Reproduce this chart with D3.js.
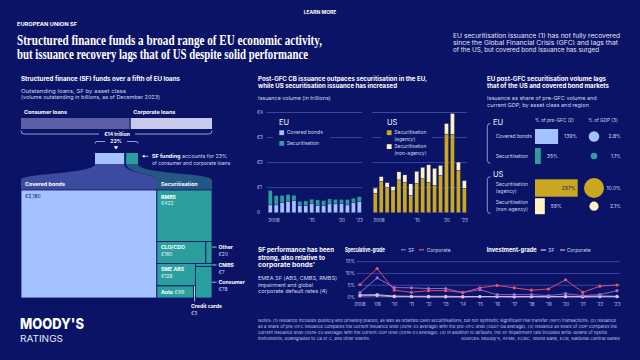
<!DOCTYPE html>
<html><head><meta charset="utf-8">
<script src="https://cdn.jsdelivr.net/npm/d3@7"></script>
<style>
html,body{margin:0;padding:0;background:#0b1366;}
svg{display:block;font-family:Inter,"Noto Sans",sans-serif;}
</style></head><body>
<svg id="c" width="640" height="360"></svg>
<script>
// ---------------- DATA ----------------
const loanCategories = ["Consumer loans", "Corporate loans"];
const loanValues = [8.0, 6.0]; // € trillion (total €14 trillion)
const sfGroups = ["Covered bonds", "Securitisation"];
const sfGroupValues = [2180, 884];
const treemapNames = ["Covered bonds", "RMBS", "CLO/CDO", "Other", "SME ABS", "Auto", "Credit cards", "CMBS", "Consumer"];
const treemapValues = [2180, 422, 160, 20, 128, 66, 3, 7, 78]; // € billions

const years = [2008, 2009, 2010, 2011, 2012, 2013, 2014, 2015, 2016, 2017, 2018, 2019, 2020, 2021, 2022, 2023];
const euCoveredBonds   = [0.31, 0.31, 0.41, 0.46, 0.50, 0.28, 0.28, 0.36, 0.30, 0.28, 0.35, 0.35, 0.36, 0.31, 0.41, 0.45];
const euSecuritisation = [0.58, 0.37, 0.28, 0.27, 0.20, 0.17, 0.19, 0.18, 0.21, 0.21, 0.20, 0.18, 0.17, 0.22, 0.17, 0.19];
const usAgency    = [0.77, 1.25, 1.01, 0.87, 1.31, 1.21, 0.69, 1.17, 1.36, 1.21, 1.09, 1.49, 3.14, 3.13, 1.69, 0.98];
const usNonAgency = [0.21, 0.19, 0.19, 0.17, 0.32, 0.30, 0.46, 0.48, 0.45, 0.70, 0.68, 0.40, 0.42, 0.83, 0.33, 0.30];
const issuanceTicks = [0, 1, 2, 3, 4];
const issuanceTickLabels = ["0", "€1", "€2", "€3", "€4"];
const barYearTicks = [2008, 2015, 2020, 2023];
const barYearLabels = ["2008", "'15", "'20", "'23"];

const shareRows = [["Covered bonds"], ["Securitisation"], ["Securitisation", "(agency)"], ["Securitisation", "(non-agency)"]];
const shareRegions = ["EU", "US"];
const preGfcShare = [139, 35, 257, 59];   // %
const gdpShare = [2.8, 1.1, 10.0, 2.1];   // %

const rateYears = [2008, 2009, 2010, 2011, 2012, 2013, 2014, 2015, 2016, 2017, 2018, 2019, 2020, 2021, 2022, 2023];
const rateYearLabels = ["2008", "'09", "'10", "'11", "'12", "'13", "'14", "'15", "'16", "'17", "'18", "'19", "'20", "'21", "'22", "'23"];
const sgSF   = [1.9, 8.1, 4.0, 3.9, 3.6, 3.6, 1.9, 3.1, 1.0, 1.0, 1.0, 0.6, 1.4, 0.6, 1.0, 2.7];
const sgCorp = [5.3, 12.1, 2.9, 2.0, 2.7, 2.7, 1.9, 3.9, 4.9, 3.9, 2.9, 3.4, 7.3, 2.0, 4.6, 5.1];
const igSF   = [0.9, 1.0, 0.4, 0.3, 0.3, 0.3, 0.2, 0.2, 0.2, 0.2, 0.2, 0.1, 0.3, 0.2, 0.4, 0.3];
const igCorp = [0.5, 0.6, 0.1, 0.1, 0.0, 0.0, 0.0, 0.1, 0.1, 0.0, 0.1, 0.1, 0.1, 0.0, 0.1, 0.1];
const rateTicks = [0, 5, 10, 15];
const rateTickLabels = ["0%", "5%", "10%", "15%"];

// ---------------- STYLE ----------------
const BG = "#0b1366", GRID = "#4652ad", SUB = "#d3d7f2", TICK = "#c3c7ee";
const CB_BLUE = "#a4c2ff", TEAL = "#2a9f9d", GOLD = "#c9a820", CREAM = "#fdf3c2";
const CONS = "#5d5ea8", CORP = "#c9c9ee";
const SG_SF = "#9c6ddb", SG_CORP = "#e4566f", IG_SF = "#cfc3f7", IG_CORP = "#f3aabd";

const svg = d3.select("#c");
svg.append("rect").attr("width", 640).attr("height", 360).attr("fill", BG);

function T(x, y, s, o = {}) {
  const t = svg.append("text").attr("x", x).attr("y", y).attr("dy", "0.35em").text(s)
    .attr("font-size", o.size || 5).attr("font-weight", o.w || 400)
    .attr("fill", o.fill || "#fff").attr("text-anchor", o.anchor || "start");
  if (o.family) t.attr("font-family", o.family);
  if (o.len) t.attr("textLength", o.len).attr("lengthAdjust", "spacingAndGlyphs");
  return t;
}

// ---------------- HEADER ----------------
T(320, 12, "LEARN MORE", {size: 5, w: 700, anchor: "middle"});
T(17, 24, "EUROPEAN UNION SF", {size: 5, w: 700, len: 60});
const tf = "'Liberation Serif','DejaVu Serif',serif";
svg.append("text").attr("x", 17).attr("y", 44.5).text("Structured finance funds a broad range of EU economic activity,")
  .attr("font-family", tf).attr("font-size", 14).attr("font-weight", 700).attr("fill", "#fff")
  .attr("textLength", 305).attr("lengthAdjust", "spacingAndGlyphs");
svg.append("text").attr("x", 17).attr("y", 59).text("but issuance recovery lags that of US despite solid performance")
  .attr("font-family", tf).attr("font-size", 14).attr("font-weight", 700).attr("fill", "#fff")
  .attr("textLength", 291).attr("lengthAdjust", "spacingAndGlyphs");
const HDR = "#e3e5f7";
T(453, 36, "EU securitisation issuance (1) has not fully recovered", {size: 5.6, fill: HDR, len: 167});
T(453, 43, "since the Global Financial Crisis (GFC) and lags that", {size: 5.6, fill: HDR, len: 165});
T(453, 50, "of the US, but covered bond issuance has surged", {size: 5.6, fill: HDR, len: 146});

// ---------------- LEFT PANEL ----------------
T(21, 79, "Structured finance (SF) funds over a fifth of EU loans", {size: 5.6, w: 700, len: 159});
T(21, 91, "Outstanding loans, SF by asset class", {size: 5.4, fill: SUB, len: 105});
T(21, 97.5, "(volume outstanding in billions, as of December 2023)", {size: 5.4, fill: SUB, len: 139});

const loanTotal = d3.sum(loanValues);
const xLoan = d3.scaleLinear().domain([0, loanTotal]).range([21, 212]);
let acc = 0;
loanValues.forEach((v, i) => {
  const x0 = xLoan(acc), x1 = xLoan(acc + v);
  svg.append("rect").attr("x", x0 + (i ? 0.6 : 0)).attr("y", 118).attr("width", x1 - x0 - 0.6).attr("height", 11)
    .attr("fill", i === 0 ? CONS : CORP);
  T(x0 + 3, 112.5, loanCategories[i], {size: 5.4, w: 700, fill: "#fff"});
  acc += v;
});
// brace
svg.append("path").attr("d", "M21,130.5 Q21,134 24,134 L99,134 M135,134 L209,134 Q212,134 212,130.5")
  .attr("fill", "none").attr("stroke", "#d7daf5").attr("stroke-width", 0.7);
T(117, 134.2, "€14 trillion", {size: 5, w: 700, anchor: "middle"});
svg.append("path").attr("d", "M95,143.5 Q95,141.5 97,141.5 L105,141.5 M127,141.5 L136,141.5 Q138,141.5 138,143.5")
  .attr("fill", "none").attr("stroke", "#d7daf5").attr("stroke-width", 0.7);
T(116, 141.5, "23%", {size: 5, w: 700, anchor: "middle"});
svg.append("path").attr("d", "M113.8,146.3 L118.2,146.3 L116,149.5 Z").attr("fill", "#fff");

// small SF boxes
const sfTotal = d3.sum(sfGroupValues);
const xSmall = d3.scaleLinear().domain([0, sfTotal]).range([0, 41]);
const cbW = xSmall(sfGroupValues[0]), secW = xSmall(sfGroupValues[1]);
const sx0 = 95, sx1 = sx0 + cbW + 2;
// funnel shapes
const ty = 164, by = 180, bandB = 190;
svg.append("path").attr("d",
  `M${sx0},${ty} C${sx0},${ty+10} 21,${by-7} 21,${by} L21,${bandB} L157,${bandB} L157,${by} C157,${by-7} ${sx0+cbW},${ty+10} ${sx0+cbW},${ty} Z`)
  .attr("fill", "#3c4a9f");
svg.append("path").attr("d",
  `M${sx1},${ty} C${sx1},${ty+10} 157,${by-7} 157,${by} L157,${bandB} L212,${bandB} L212,${by} C212,${by-7} ${sx1+secW},${ty+10} ${sx1+secW},${ty} Z`)
  .attr("fill", "#245783");
svg.append("rect").attr("x", sx0).attr("y", 153).attr("width", cbW).attr("height", 11).attr("fill", CB_BLUE);
svg.append("rect").attr("x", sx1).attr("y", 153).attr("width", secW).attr("height", 11).attr("fill", TEAL);
svg.append("path").attr("d", "M143,156.3 L148.5,156.3").attr("stroke", "#fff").attr("stroke-width", 0.7);
svg.append("path").attr("d", "M142,156.3 L144.5,154.8 L144.5,157.8 Z").attr("fill", "#fff");
const sfNote = svg.append("text").attr("x", 152).attr("y", 156).attr("dy", "0.35em").attr("font-size", 5.4).attr("fill", SUB);
sfNote.append("tspan").text("SF funding").attr("font-weight", 700).attr("fill", "#fff");
sfNote.append("tspan").text(" accounts for 23%");
T(152, 162.7, "of consumer and corporate loans", {size: 5.4, fill: SUB, len: 78});
T(25, 184.5, sfGroups[0], {size: 5.4, w: 700});
T(161, 184.5, sfGroups[1], {size: 5.4, w: 700});

// treemap
const v = treemapValues;
const tmData = {name: "root", children: [
  {name: treemapNames[0], value: v[0]},
  {name: "Securitisation", children: [
    {name: treemapNames[1], value: v[1]},
    {name: "g1", children: [{name: treemapNames[2], value: v[2]}, {name: treemapNames[3], value: v[3]}]},
    {name: "g2", children: [
      {name: "g2a", children: [{name: treemapNames[4], value: v[4]},
        {name: "g2a2", children: [{name: treemapNames[5], value: v[5]}, {name: treemapNames[6], value: v[6]}]}]},
      {name: "g2b", children: [{name: treemapNames[7], value: v[7]}, {name: treemapNames[8], value: v[8]}]}
    ]}
  ]}
]};
const root = d3.hierarchy(tmData).sum(d => d.value || 0);
d3.treemap().tile(d3.treemapSliceDice).size([191, 108]).round(false)(root);
const gT = svg.append("g").attr("transform", "translate(21,190)");
const leaves = root.leaves();
gT.selectAll("rect").data(leaves).join("rect")
  .attr("x", d => d.x0).attr("y", d => d.y0).attr("width", d => d.x1 - d.x0).attr("height", d => d.y1 - d.y0)
  .attr("fill", d => d.data.name === "Covered bonds" ? CB_BLUE : TEAL)
  .attr("stroke", BG).attr("stroke-width", 0.8);
const L = {}; leaves.forEach(d => L[d.data.name] = {x0: d.x0 + 21, x1: d.x1 + 21, y0: d.y0 + 190, y1: d.y1 + 190, v: d.value});
const fmt = n => "€" + d3.format(",")(n);
T(L["Covered bonds"].x0 + 4, L["Covered bonds"].y0 + 6.5, fmt(L["Covered bonds"].v), {size: 5, fill: BG});
["RMBS", "CLO/CDO", "SME ABS"].forEach(k => {
  const c = L[k], oy = k === "RMBS" ? 6.7 : 5.5;
  T(c.x0 + 4, c.y0 + oy, k, {size: 5.2, w: 700});
  T(c.x0 + 4, c.y0 + oy + 6.8, fmt(c.v), {size: 5, fill: "#e6f4f3"});
});
{
  const c = L["Auto"];
  const t = svg.append("text").attr("x", c.x0 + 4).attr("y", (c.y0 + c.y1) / 2).attr("dy", "0.35em").attr("font-size", 5.2).attr("fill", "#fff");
  t.append("tspan").text("Auto").attr("font-weight", 700);
  t.append("tspan").text(" " + fmt(c.v)).attr("fill", "#e6f4f3");
}
// outside labels
const outs = [["Other", L["Other"].y0 + 5.5], ["CMBS", (L["CMBS"].y0 + L["CMBS"].y1) / 2], ["Consumer", (L["Consumer"].y0 + L["Consumer"].y1) / 2]];
outs.forEach(([k, y]) => {
  svg.append("line").attr("x1", 212).attr("x2", 216.5).attr("y1", y).attr("y2", y).attr("stroke", "#fff").attr("stroke-width", 0.7);
  T(218.5, y, k, {size: 5.2, w: 700});
  T(218.5, y + 7, fmt(L[k].v), {size: 5, fill: SUB});
});
{
  const c = L["Credit cards"], cx = (c.x0 + c.x1) / 2;
  svg.append("line").attr("x1", cx).attr("x2", cx).attr("y1", c.y0).attr("y2", 301.5).attr("stroke", "#fff").attr("stroke-width", 0.7);
  T(191, 306, "Credit cards", {size: 5.2, w: 700});
  T(191, 313, fmt(c.v), {size: 5, fill: SUB});
}

// ---------------- MIDDLE PANEL: ISSUANCE ----------------
T(258, 79, "Post-GFC CB issuance outpaces securitisation in the EU,", {size: 5.6, w: 700, len: 169});
T(258, 85.8, "while US securitisation issuance has increased", {size: 5.6, w: 700, len: 139});
T(258, 98.3, "Issuance volume (in trillions)", {size: 5.4, fill: SUB, len: 72.7});

const yIss = d3.scaleLinear().domain([0, 4]).range([212.7, 112.5]);
const xEU = d3.scaleBand().domain(years).range([267, 362.5]).paddingInner(0.32).paddingOuter(0.2);
const xUS = d3.scaleBand().domain(years).range([372, 467.5]).paddingInner(0.32).paddingOuter(0.2);

[[267, 362], [372, 467]].forEach(([a, b]) => {
  svg.append("g").selectAll("line").data(issuanceTicks.slice(1)).join("line")
    .attr("x1", a).attr("x2", b).attr("y1", d => yIss(d)).attr("y2", d => yIss(d))
    .attr("stroke", GRID).attr("stroke-width", 0.8);
});
svg.append("g").selectAll("text").data(issuanceTicks).join("text")
  .attr("x", 257).attr("y", d => yIss(d)).attr("dy", "0.35em").text((d, i) => issuanceTickLabels[i])
  .attr("font-size", 4.6).attr("fill", TICK);

function stackBars(xs, a, b, ca, cb) {
  const rows = years.map((y, i) => ({year: y, a: a[i], b: b[i]}));
  const st = d3.stack().keys(["a", "b"])(rows);
  st.forEach((layer, li) => {
    svg.append("g").selectAll("rect").data(layer).join("rect")
      .attr("x", d => xs(d.data.year)).attr("width", xs.bandwidth())
      .attr("y", d => yIss(d[1])).attr("height", d => yIss(d[0]) - yIss(d[1]))
      .attr("fill", li === 0 ? ca : cb).attr("stroke", BG).attr("stroke-width", 0.3);
  });
  barYearTicks.forEach((y, i) => {
    const first = i === 0;
    T(first ? xs(y) : xs(y) + xs.bandwidth() / 2, 220, barYearLabels[i], {size: 4.6, fill: TICK, anchor: first ? "start" : "middle"});
  });
}
stackBars(xEU, euCoveredBonds, euSecuritisation, CB_BLUE, TEAL);
stackBars(xUS, usAgency, usNonAgency, GOLD, CREAM);

// legends (with background masks over gridlines)
svg.append("rect").attr("x", 273).attr("y", 115).attr("width", 57).attr("height", 35).attr("fill", BG);
svg.append("rect").attr("x", 381).attr("y", 115).attr("width", 51).attr("height", 43).attr("fill", BG);
T(279, 122, "EU", {size: 7.5});
svg.append("rect").attr("x", 279.3).attr("y", 130.3).attr("width", 4.8).attr("height", 4.8).attr("fill", CB_BLUE);
T(286.7, 132.7, "Covered bonds", {size: 5, fill: SUB});
svg.append("rect").attr("x", 279.3).attr("y", 141).attr("width", 4.8).attr("height", 4.8).attr("fill", TEAL);
T(286.7, 143.4, "Securitisation", {size: 5, fill: SUB});
T(387, 122, "US", {size: 7.5});
svg.append("rect").attr("x", 386.8).attr("y", 130.3).attr("width", 4.8).attr("height", 4.8).attr("fill", GOLD);
T(394.3, 132.7, "Securitisation", {size: 5, fill: SUB});
T(394.3, 139.3, "(agency)", {size: 5, fill: SUB});
svg.append("rect").attr("x", 386.8).attr("y", 144.2).attr("width", 4.8).attr("height", 4.8).attr("fill", CREAM);
T(394.3, 146.5, "Securitisation", {size: 5, fill: SUB});
T(394.3, 153.3, "(non-agency)", {size: 5, fill: SUB});

// ---------------- RIGHT PANEL: SHARES ----------------
T(487, 79, "EU post-GFC securitisation volume lags", {size: 5.6, w: 700, len: 119});
T(487, 85.8, "that of the US and covered bond markets", {size: 5.6, w: 700, len: 122});
T(487, 98.3, "Issuance as share of pre-GFC volume and", {size: 5.4, fill: SUB, len: 109.7});
T(487, 105, "current GDP, by asset class and region", {size: 5.4, fill: SUB, len: 102});
T(535, 120.8, "% of pre-GFC (2)", {size: 4.8, fill: SUB, len: 39});
T(588.3, 120.8, "% of GDP (3)", {size: 4.8, fill: SUB, len: 29.4});
T(493, 122, shareRegions[0], {size: 7.5});
T(493, 174, shareRegions[1], {size: 7.5});
[[123.5, 163.3], [176.7, 213.5]].forEach(([a, b]) => {
  svg.append("path").attr("d", `M490.5,${a} Q487.3,${a} 487.3,${a + 3} L487.3,${b - 3} Q487.3,${b} 490.5,${b}`)
    .attr("fill", "none").attr("stroke", "#c9cdf0").attr("stroke-width", 0.7);
});
const xShare = d3.scaleLinear().domain([0, 257]).range([0, 42.7]);
const rShare = d3.scaleSqrt().domain([0, 10]).range([0, 10]);
const rowCenter = [136.5, 156, 188, 206.2];
const rowBarH = [15, 16, 17.4, 16];
const rowCols = [CB_BLUE, TEAL, GOLD, CREAM];
preGfcShare.forEach((p, i) => {
  const cy = rowCenter[i], h = rowBarH[i];
  svg.append("rect").attr("x", 535).attr("y", cy - h / 2).attr("width", xShare(p)).attr("height", h).attr("fill", rowCols[i]);
  const lines = shareRows[i];
  lines.forEach((s, j) => T(495.7, cy + (lines.length === 1 ? 0 : (j === 0 ? -3.5 : 3.5)), s, {size: 5, fill: SUB}));
  if (p > 200) T(535 + xShare(p) - 2, cy, p + "%", {size: 5, fill: BG, anchor: "end"});
  else T(535 + xShare(p) + 6, cy, p + "%", {size: 5, fill: SUB});
  svg.append("circle").attr("cx", 594).attr("cy", cy).attr("r", rShare(gdpShare[i])).attr("fill", rowCols[i]);
  T(621, cy, d3.format(".1f")(gdpShare[i]) + "%", {size: 5, fill: SUB, anchor: "end"});
});

// ---------------- BOTTOM: PERFORMANCE ----------------
T(258, 250, "SF performance has been", {size: 6, w: 700, len: 76});
T(258, 257.4, "strong, also relative to", {size: 6, w: 700, len: 67});
T(258, 264.7, "corporate bonds'", {size: 6, w: 700, len: 57});
T(258, 278.5, "EMEA SF (ABS, CMBS, RMBS)", {size: 5.4, fill: SUB, len: 79});
T(258, 285, "impairment and global", {size: 5.4, fill: SUB, len: 55});
T(258, 291.5, "corporate default rates (4)", {size: 5.4, fill: SUB, len: 69.3});

const xL = d3.scaleLinear().domain([2008, 2023]).range([360, 617]);
const yL = d3.scaleLinear().domain([0, 15]).range([297, 261.7]);
svg.append("g").selectAll("line").data(rateTicks).join("line")
  .attr("x1", 357).attr("x2", 620).attr("y1", d => yL(d)).attr("y2", d => yL(d))
  .attr("stroke", GRID).attr("stroke-width", 0.8);
svg.append("g").selectAll("text").data(rateTicks).join("text")
  .attr("x", 355).attr("y", d => yL(d)).attr("dy", "0.35em").attr("text-anchor", "end")
  .text((d, i) => rateTickLabels[i]).attr("font-size", 4.6).attr("fill", TICK);
svg.append("g").selectAll("text").data(rateYears).join("text")
  .attr("x", d => xL(d)).attr("y", 304).attr("dy", "0.35em").attr("text-anchor", "middle")
  .text((d, i) => rateYearLabels[i]).attr("font-size", 4.6).attr("fill", TICK);
const line = d3.line().x((d, i) => xL(rateYears[i])).y(d => yL(d));
[[igCorp, IG_CORP], [igSF, IG_SF], [sgSF, SG_SF], [sgCorp, SG_CORP]].forEach(([arr, col]) => {
  svg.append("path").datum(arr).attr("d", line).attr("fill", "none").attr("stroke", col).attr("stroke-width", 0.9);
  svg.append("g").selectAll("circle").data(arr).join("circle")
    .attr("cx", (d, i) => xL(rateYears[i])).attr("cy", d => yL(d)).attr("r", 1.6).attr("fill", col);
});
// legends
T(345, 249.8, "Speculative-grade", {size: 5.6, w: 700, len: 40});
svg.append("line").attr("x1", 401).attr("x2", 405.8).attr("y1", 249.8).attr("y2", 249.8).attr("stroke", SG_SF).attr("stroke-width", 1.2);
T(408.3, 249.8, "SF", {size: 5, fill: SUB});
svg.append("line").attr("x1", 419).attr("x2", 424).attr("y1", 249.8).attr("y2", 249.8).attr("stroke", SG_CORP).attr("stroke-width", 1.2);
T(426.7, 249.8, "Corporate", {size: 5, fill: SUB});
T(486.7, 250, "Investment-grade", {size: 5.6, w: 700, len: 50});
svg.append("line").attr("x1", 540.7).attr("x2", 546).attr("y1", 250).attr("y2", 250).attr("stroke", IG_SF).attr("stroke-width", 1.2);
T(548.3, 250, "SF", {size: 5, fill: SUB});
svg.append("line").attr("x1", 560).attr("x2", 565).attr("y1", 250).attr("y2", 250).attr("stroke", IG_CORP).attr("stroke-width", 1.2);
T(566.7, 250, "Corporate", {size: 5, fill: SUB});

// ---------------- FOOTER ----------------
T(20, 324, "MOODY'S", {size: 14.5, w: 800, len: 64});
T(20, 339, "RATINGS", {size: 9.5, w: 400, len: 43, fill: "#e8eaf8"});
const NOTE = "#bfc3e8";
T(258, 321, "Notes: (1) Issuance includes publicly and privately placed, as well as retained cash securitisations, but not synthetic significant risk transfer (SRT) transactions. (2) Issuance", {size: 3.8, fill: NOTE, len: 358});
T(258, 327, "as a share of pre-GFC issuance compares the current issuance level (2019-23 average) with the pre-GFC level (2007-08 average). (3) Issuance as share of GDP compares the", {size: 3.8, fill: NOTE, len: 359});
T(258, 333, "current issuance level (2019-23 average) with the current GDP level (2019-23 average). (4) In addition to defaults, the SF impairment rate includes write-downs of hybrid", {size: 3.8, fill: NOTE, len: 349});
T(258, 339, "instruments, downgrades to Ca or C, and other events.", {size: 3.8, fill: NOTE, len: 112});
T(620, 339, "Sources: Moody's, AFME, ECBC, World Bank, ECB, National Central Banks", {size: 3.8, fill: NOTE, anchor: "end", len: 159});
</script>
</body></html>
